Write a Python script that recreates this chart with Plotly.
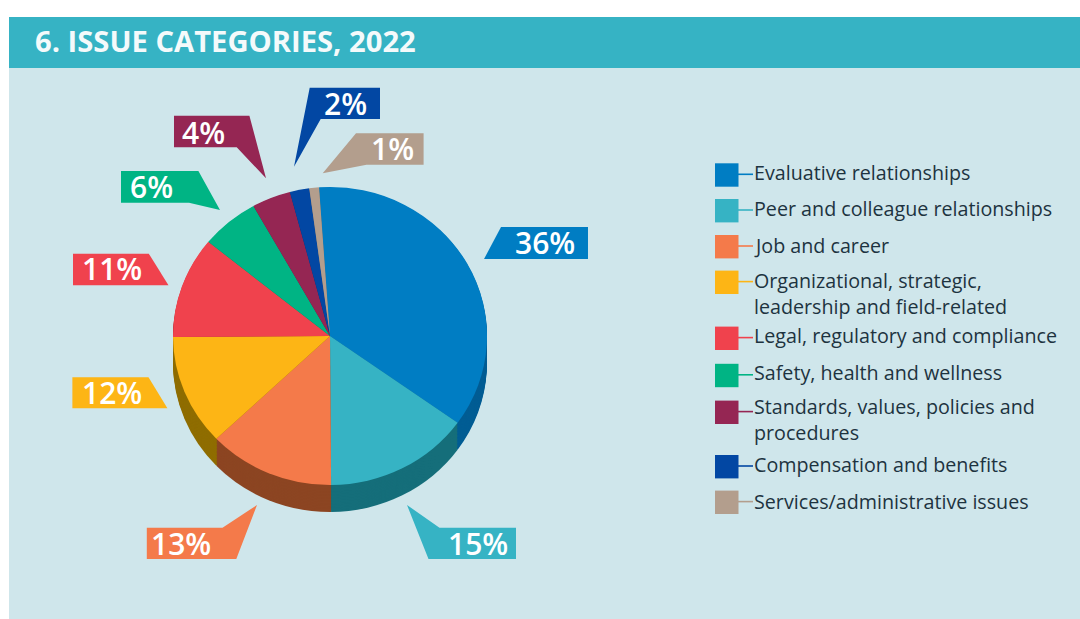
import plotly.graph_objects as go

W, H = 1080, 619

# ---- data ----
title_text = "6. ISSUE CATEGORIES, 2022"
categories = [
    "Evaluative relationships",
    "Peer and colleague relationships",
    "Job and career",
    "Organizational, strategic,<br>leadership and field-related",
    "Legal, regulatory and compliance",
    "Safety, health and wellness",
    "Standards, values, policies and<br>procedures",
    "Compensation and benefits",
    "Services/administrative issues",
]
values = [36, 15, 13, 12, 11, 6, 4, 2, 1]
colors = ["#007dc3", "#36b3c4", "#f47a4a", "#fdb515", "#f0424d",
          "#00b484", "#952653", "#0247a3", "#b39e8d"]
side_colors = ["#005d94", "#156e7a", "#8c4522", "#8f6d00", "#a02c33",
               "#00785a", "#641a38", "#01306e", "#7a6b5f"]

# ---- layout constants (pixels) ----
CX, CY, R = 330, 336, 153
RX, RY = 157, 149          # the reference's top face is a slightly squashed ellipse
SX, SY = RX / R, RY / R
DEPTH = 27 / SY
ROT = -4.0
callouts = [
    [(501, 227), (588, 227), (588, 259), (484, 259)],
    [(407, 505), (439.5, 527.7), (516, 527.7), (516, 559), (428.5, 559)],
    [(257, 505), (222.5, 527.7), (146.8, 527.7), (146.8, 559), (236.3, 559)],
    [(72.4, 377.3), (148.5, 377.3), (167.4, 408.3), (72.4, 408.3)],
    [(73, 253.7), (148.8, 253.7), (168.5, 285.3), (73, 285.3)],
    [(121, 171), (198.4, 171), (220, 210), (189, 202.7), (121, 202.7)],
    [(174, 115.7), (249.4, 115.7), (266, 178.3), (236.7, 147.3), (174, 147.3)],
    [(309.7, 87.7), (380, 87.7), (380, 119), (320.7, 119), (294, 166.7)],
    [(356, 133.3), (423.6, 133.3), (423.6, 164.7), (366.5, 164.7), (322.7, 173.3)],
]
callout_text_pos = [(545, 243), (478, 543), (181, 543), (112, 392), (112, 268),
                    (151, 187), (203, 132), (345, 103), (392, 149)]
swatch_y = [175, 210.7, 246.7, 282.3, 338.3, 375.5, 412.3, 466.7, 502.3]
legend_text_y = [172, 208.5, 245, 293, 335, 372, 420, 464, 501]


def px(x):
    return x / W


def py(y):
    return 1 - y / H


def pie(offset, cols):
    return go.Pie(
        values=values, labels=[c.replace("<br>", " ") for c in categories],
        sort=False, direction="clockwise", rotation=ROT,
        marker=dict(colors=cols, line=dict(width=0)),
        textinfo="none", showlegend=False, hoverinfo="label+percent",
        domain=dict(x=[px(CX - R), px(CX + R)],
                    y=[py(CY + offset + R), py(CY + offset - R)]),
    )


fig = go.Figure()
off = DEPTH
while off > 0:
    fig.add_trace(pie(off, side_colors))
    off -= 1.5
fig.add_trace(pie(0, colors))


def rect(x0, y0, x1, y1, color):
    return dict(type="rect", xref="paper", yref="paper", layer="below",
                x0=px(x0), x1=px(x1), y0=py(y0), y1=py(y1),
                fillcolor=color, line=dict(width=0))


shapes = [
    rect(9, 68, W, H, "#cfe6eb"),
    rect(9, 17, W, 68, "#36b3c4"),
]
for pts, col in zip(callouts, colors):
    path = "M " + " L ".join(f"{px(x):.5f},{py(y):.5f}" for x, y in pts) + " Z"
    shapes.append(dict(type="path", xref="paper", yref="paper", layer="below",
                       path=path, fillcolor=col, line=dict(width=0)))
for y, col in zip(swatch_y, colors):
    shapes.append(rect(715, y - 11.7, 738.5, y + 11.7, col))
    shapes.append(dict(type="line", xref="paper", yref="paper", layer="below",
                       x0=px(738), x1=px(753), y0=py(y - 0.7), y1=py(y - 0.7),
                       line=dict(color=col, width=1.6)))

annotations = [dict(
    text=title_text, xref="paper", yref="paper", x=px(33), y=py(41),
    xanchor="left", yanchor="middle", showarrow=False,
    font=dict(family="Open Sans", size=29.2, color="#f4fafb", weight=700),
)]
for (x, y), v in zip(callout_text_pos, values):
    annotations.append(dict(
        text=f"{v}%", xref="paper", yref="paper", x=px(x), y=py(y),
        xanchor="center", yanchor="middle", showarrow=False,
        font=dict(family="Open Sans", size=30, color="#ffffff", weight=600),
    ))
for y, c in zip(legend_text_y, categories):
    annotations.append(dict(
        text=c, xref="paper", yref="paper", x=px(752), y=py(y),
        xanchor="left", yanchor="middle", align="left", showarrow=False,
        font=dict(family="Open Sans", size=19.7, color="#1d3340"),
    ))

fig.update_layout(
    width=W, height=H, autosize=False,
    margin=dict(l=0, r=0, t=0, b=0),
    paper_bgcolor="#ffffff", plot_bgcolor="rgba(0,0,0,0)",
    shapes=shapes, annotations=annotations,
)
post = (
    "document.body.style.margin='0';"
    "document.querySelectorAll('.pielayer').forEach(function(g){"
    f"g.setAttribute('transform','translate({CX},{CY}) scale({SX:.4f},{SY:.4f}) translate({-CX},{-CY})');"
    "});"
)
fig.write_html("out.html", post_script=post, config={"displayModeBar": False})
